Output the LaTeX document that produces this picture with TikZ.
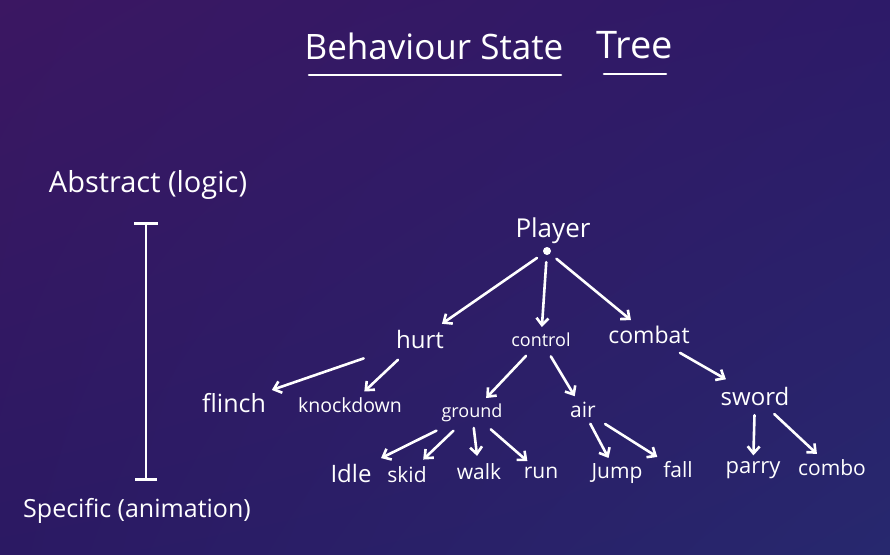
\documentclass[tikz,border=0pt]{standalone}
\usepackage{fontspec}
\setmainfont{Open Sans}
\usetikzlibrary{arrows.meta,shadings}
\definecolor{bgTL}{HTML}{3B1762}
\definecolor{bgTR}{HTML}{2D1A68}
\definecolor{bgBL}{HTML}{2B1963}
\definecolor{bgBR}{HTML}{27286E}
\tikzset{
  lbl/.style={text=white, inner sep=1pt, outer sep=5pt, font=\fontsize{21}{24}\selectfont},
  small/.style={lbl, font=\fontsize{18}{21}\selectfont},
  arr/.style={draw=white, line width=2.6pt, line cap=round, -{Straight Barb[length=7pt,width=12pt,line width=2.6pt]}},
  uline/.style={draw=white, line width=2.6pt, line cap=round},
}
\begin{document}
\begin{tikzpicture}[x=1pt,y=-1pt]
\useasboundingbox (0,0) rectangle (890,554);
\shade[upper left=bgTL, upper right=bgTR, lower left=bgBL, lower right=bgBR] (0,0) rectangle (890,554);

% title
\node[lbl, font=\fontsize{35}{42}\selectfont] (t1) at (434,46) {Behaviour State};
\node[lbl, font=\fontsize{38}{44}\selectfont] (t2) at (635,45) {Tree};
\coordinate (u1a) at (309,75); \coordinate (u1b) at (561,75);
\coordinate (u2a) at (604,74); \coordinate (u2b) at (666,74);
\draw[uline] (u1a) -- (u1b);
\draw[uline] (u2a) -- (u2b);

% abstraction scale
\node[lbl, font=\fontsize{29}{34}\selectfont] (abs) at (148,185) {Abstract (logic)};
\node[lbl, font=\fontsize{25}{30}\selectfont] (spec) at (137,511) {Specific (animation)};
\coordinate (bt) at (146,222); \coordinate (bb) at (146,481);
\draw[draw=white, line width=2.6pt, {Bar[width=24pt,line width=2.6pt]}-{Bar[width=22pt,line width=2.6pt]}] (bt) -- (bb);

% tree
\node[lbl, font=\fontsize{26}{30}\selectfont] (player) at (553,231) {Player};
\node[circle, fill=white, inner sep=0pt, minimum size=8pt] (pdot) at (547,251) {};
\node[lbl, font=\fontsize{24}{28}\selectfont] (hurt) at (420,339) {hurt};
\node[small] (control) at (541,340) {control};
\node[lbl, font=\fontsize{23}{27}\selectfont] (combat) at (649,335) {combat};

\node[lbl, font=\fontsize{25}{29}\selectfont] (flinch) at (234,403) {flinch};
\node[small, font=\fontsize{19.5}{23}\selectfont] (knock) at (350,405) {knockdown};
\node[small] (ground) at (472,413) {ground};
\node[lbl] (air) at (583,410) {air};
\node[lbl, font=\fontsize{24}{28}\selectfont] (sword) at (755,396) {sword};

\node[lbl, font=\fontsize{24}{28}\selectfont] (idle) at (351,473) {Idle};
\node[lbl] (skid) at (407,475) {skid};
\node[lbl] (walk) at (479,472) {walk};
\node[lbl] (run) at (541,473) {run};
\node[lbl] (jump) at (617,474) {Jump};
\node[lbl] (fall) at (678,470) {fall};
\node[lbl, font=\fontsize{22}{26}\selectfont] (parry) at (753,470) {parry};
\node[lbl] (combo) at (832,468) {combo};

\draw[arr, shorten <=8pt] (pdot) -- (hurt);
\draw[arr, shorten <=7pt] (pdot) -- (control);
\draw[arr, shorten <=8pt] (pdot) -- (combat);

\draw[arr, shorten <=28pt] (hurt) -- (flinch);
\draw[arr, shorten <=8pt] (hurt) -- (knock);
\draw[arr, shorten <=4pt] (control) -- (ground);
\draw[arr, shorten <=4pt] (control) -- (air);
\draw[arr, shorten <=6pt, shorten >=3pt] (combat) -- (sword);

\draw[arr, shorten <=6pt, shorten >=4pt] (ground) -- (idle);
\draw[arr, shorten <=4pt, shorten >=2pt] (ground) -- (skid);
\draw[arr, shorten >=2pt] (ground) -- (walk);
\draw[arr, shorten <=2pt] (ground) -- (run);
\draw[arr] (air) -- (jump);
\draw[arr, shorten <=4pt] (air) -- (fall);
\draw[arr, shorten <=4pt] (sword) -- (parry);
\draw[arr, shorten <=4pt] (sword) -- (combo);
\end{tikzpicture}
\end{document}
